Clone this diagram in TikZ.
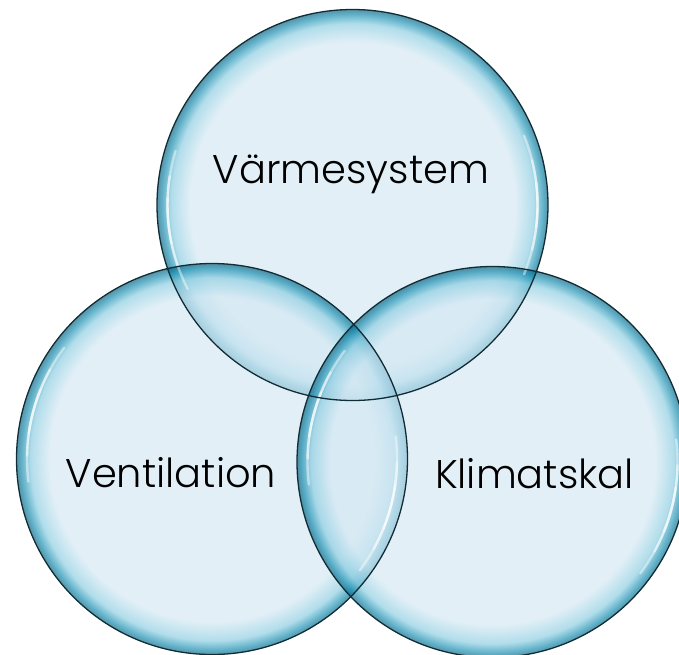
\documentclass[tikz,border=0pt]{standalone}
\usepackage{fontspec}
\setmainfont{Poppins}[UprightFont=* Light]
\definecolor{bubin}{RGB}{212,232,243}
\definecolor{bubmid}{RGB}{140,205,225}
\definecolor{bubrim}{RGB}{20,140,175}
\definecolor{bubdark}{RGB}{10,95,125}
\definecolor{bubline}{RGB}{15,45,55}
\pgfdeclareradialshading{bubble}{\pgfpointorigin}{color(0bp)=(bubin); color(20.8bp)=(bubin); color(23.2bp)=(bubmid); color(24.4bp)=(bubrim); color(25bp)=(bubdark); color(50bp)=(bubdark)}
\tikzset{
  bubblefill/.style={shading=bubble, fill opacity=0.68},
  bubbleedge/.style={draw=bubline, line width=1.3pt},
  gloss/.style={white, line width=2.4pt, line cap=round, opacity=0.45},
  lbl/.style={font=\fontsize{40}{48}\selectfont, text=black, anchor=base, inner sep=0pt}
}
\newcommand{\glossarc}[2]{%
  \foreach \w in {7,14,22}{
    \draw[gloss] ([shift={({#2-\w}:185pt)}]#1) arc[start angle={#2-\w}, end angle={#2+\w}, radius=185pt];
  }}
\begin{document}
\begin{tikzpicture}[x=1pt,y=-1pt]
\useasboundingbox (0,0) rectangle (679,654);
\coordinate (top) at (352.5,205);
\coordinate (left) at (212,459);
\coordinate (right) at (492.5,462);
\foreach \c in {top,left,right}{
  \shade[bubblefill] (\c) circle[radius=195.5pt];
}
\glossarc{top}{185}
\glossarc{top}{0}
\glossarc{left}{165}
\glossarc{left}{-15}
\glossarc{right}{165}
\glossarc{right}{-15}
\foreach \c in {top,left,right}{
  \draw[bubbleedge] (\c) circle[radius=195.5pt];
}
\node[lbl] (t1) at (351,183) {Värmesystem};
\node[lbl] (t2) at (171,487) {Ventilation};
\node[lbl] (t3) at (534.5,488) {Klimatskal};
\end{tikzpicture}
\end{document}
